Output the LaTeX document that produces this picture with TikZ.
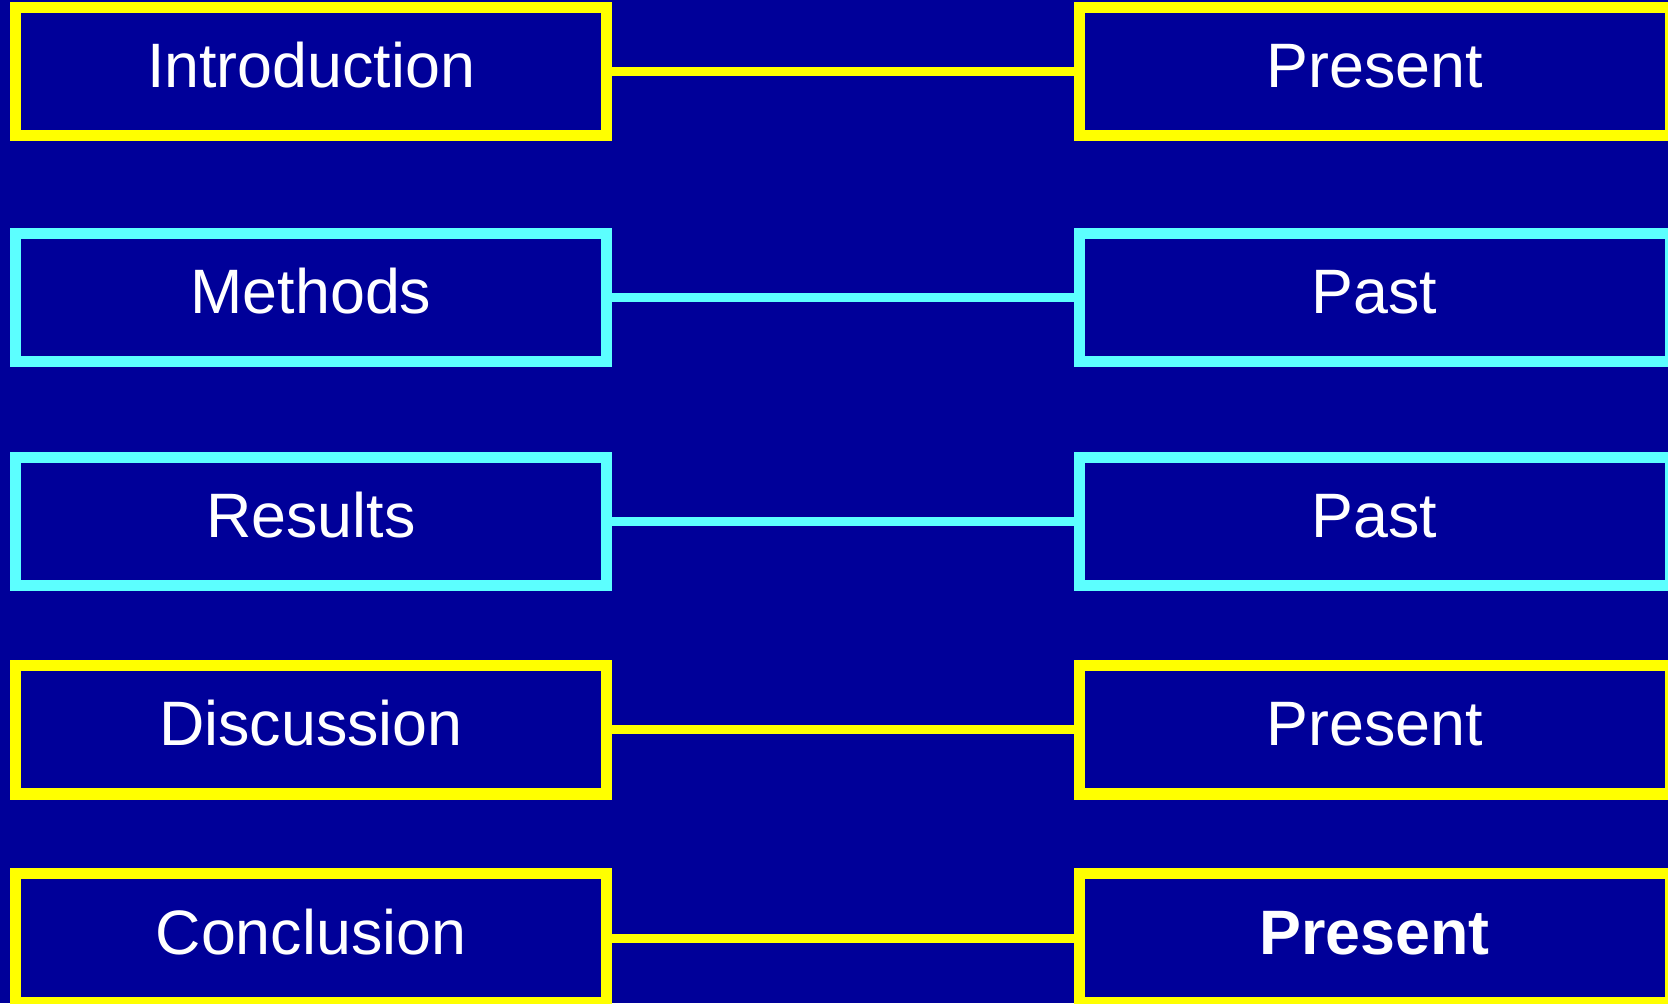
\documentclass[tikz,border=0pt]{standalone}
\usepackage{fontspec}
\setmainfont{Liberation Sans}
\definecolor{bgblue}{RGB}{0,0,153}
\definecolor{lineyellow}{RGB}{255,255,0}
\definecolor{linecyan}{RGB}{92,255,255}
\tikzset{
    part/.style={draw=#1, line width=11bp, fill=bgblue, text=white,
        minimum width=591bp, minimum height=128bp, inner sep=0pt,
        text height=46bp, text depth=14bp,
        font=\fontsize{63}{70}\selectfont},
    link/.style={#1, line width=9bp}
}
\begin{document}
\begin{tikzpicture}[x=1bp, y=1bp]
        \useasboundingbox[fill=bgblue] (0,0) rectangle (1668,1003);
        % sections on the left
        \node[part=lineyellow] (intro) at (311,931) {Introduction};
        \node[part=linecyan] (methods) at (311,705.5) {Methods};
        \node[part=linecyan] (results) at (311,481) {Results};
        \node[part=lineyellow] (discuss) at (311,273) {Discussion};
        \node[part=lineyellow] (concl) at (311,65) {Conclusion};
        % tenses on the right
        \node[part=lineyellow] (tintro) at (1374.5,931) {Present};
        \node[part=linecyan] (tmethods) at (1374.5,705.5) {Past};
        \node[part=linecyan] (tresults) at (1374.5,481) {Past};
        \node[part=lineyellow] (tdiscuss) at (1374.5,273) {Present};
        \node[part=lineyellow] (tconcl) at (1374.5,65) {\bfseries Present};
        % links
        \draw[link=lineyellow] (intro.east) -- (tintro.west);
        \draw[link=linecyan] (methods.east) -- (tmethods.west);
        \draw[link=linecyan] (results.east) -- (tresults.west);
        \draw[link=lineyellow] (discuss.east) -- (tdiscuss.west);
        \draw[link=lineyellow] (concl.east) -- (tconcl.west);
    \end{tikzpicture}
\end{document}
